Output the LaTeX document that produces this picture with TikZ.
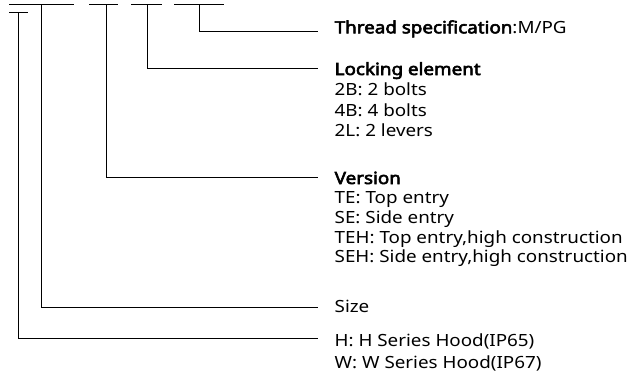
\documentclass[tikz,border=0pt]{standalone}
\usepackage{fontspec}
\setmainfont{Noto Sans}[AutoFakeBold=3.5, FakeStretch=1.12]
\begin{document}
\begin{tikzpicture}[x=1pt,y=1pt,
  conn/.style={line width=1pt, line cap=rect},
  bar/.style={line width=1pt},
  lbl/.style={anchor=base west, inner sep=0pt, font=\fontsize{16.8}{19}\selectfont}]
\useasboundingbox (0,0) rectangle (629,-376);
% code placeholder bars
\draw[bar] (9,-4.3) -- (74,-4.3);
\draw[bar] (89,-4.3) -- (118,-4.3);
\draw[bar] (131,-4.3) -- (162,-4.3);
\draw[bar] (174,-4.3) -- (224,-4.3);
\draw[bar] (9,-12.5) -- (28,-12.5);
% tick points
\coordinate (tH) at (18.3,-12.5);
\coordinate (tS) at (41,-4.3);
\coordinate (tV) at (106,-4.3);
\coordinate (tL) at (147,-4.3);
\coordinate (tT) at (199,-4.3);
% line ends
\coordinate (eT) at (317,-31.3);
\coordinate (eL) at (317,-68.3);
\coordinate (eV) at (317,-177.3);
\coordinate (eS) at (317,-307);
\coordinate (eH) at (317,-338.3);
% labels
\node[lbl] (thread) at (334.5,-33.3) {\textbf{Thread specification}:M/PG};
\node[lbl] (lock) at (334.5,-75) {\textbf{Locking element}};
\node[lbl] (lock1) at (334.5,-95.7) {2B: 2 bolts};
\node[lbl] (lock2) at (334.5,-116.2) {4B: 4 bolts};
\node[lbl] (lock3) at (334.5,-136.7) {2L: 2 levers};
\node[lbl] (ver) at (334.5,-184) {\textbf{Version}};
\node[lbl] (ver1) at (334.5,-203.5) {TE: Top entry};
\node[lbl] (ver2) at (334.5,-223.3) {SE: Side entry};
\node[lbl] (ver3) at (334.5,-243.1) {TEH: Top entry,high construction};
\node[lbl] (ver4) at (334.5,-262.9) {SEH: Side entry,high construction};
\node[lbl] (size) at (334.5,-312.7) {Size};
\node[lbl] (ser1) at (334.5,-346.7) {H: H Series Hood(IP65)};
\node[lbl] (ser2) at (334.5,-368.3) {W: W Series Hood(IP67)};
% connectors
\draw[conn] (tT) |- (eT);
\draw[conn] (tL) |- (eL);
\draw[conn] (tV) |- (eV);
\draw[conn] (tS) |- (eS);
\draw[conn] (tH) |- (eH);
\end{tikzpicture}
\end{document}
